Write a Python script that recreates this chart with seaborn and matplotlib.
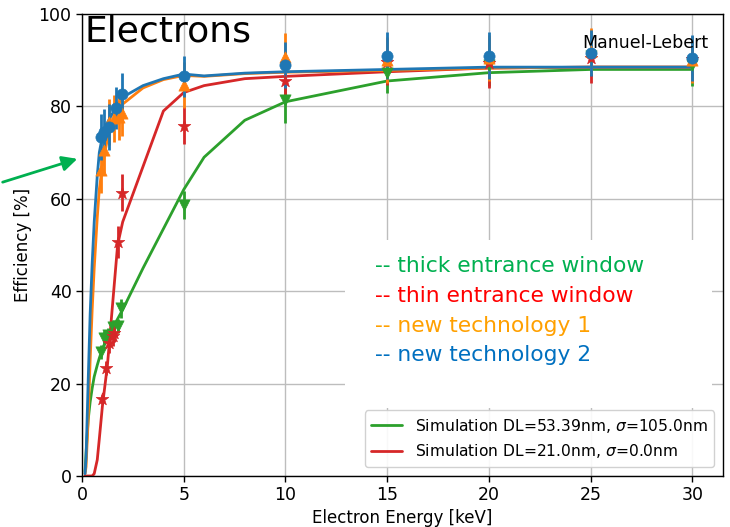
import numpy as np
import pandas as pd
import matplotlib
matplotlib.use("Agg")
import matplotlib.pyplot as plt
import seaborn as sns
from matplotlib.patches import Rectangle

# ---------------- data ----------------
sim_energy = [0.15, 0.2, 0.3, 0.4, 0.5, 0.6, 0.75, 0.85, 1.0, 1.25, 1.5, 1.75, 2.0,
              3.0, 4.0, 5.0, 6.0, 8.0, 10.0, 15.0, 20.0, 25.0, 30.0]
sim_green = [1.0, 5.0, 12.0, 16.0, 19.0, 21.5, 24.0, 25.5, 27.5, 30.0, 32.0, 34.0, 36.0,
             45.0, 53.5, 62.0, 69.0, 77.0, 81.0, 85.5, 87.3, 88.0, 88.0]
sim_red = [0.0, 0.0, 0.0, 0.0, 0.0, 0.5, 3.5, 8.0, 15.0, 24.0, 37.0, 50.0, 55.0,
           67.0, 79.0, 83.0, 84.5, 86.0, 86.5, 87.5, 88.3, 88.5, 88.5]
sim_orange = [0.5, 2.0, 12.0, 25.0, 36.0, 45.0, 56.0, 62.0, 67.0, 73.0, 76.5, 79.0, 80.5,
              84.0, 85.8, 86.7, 86.5, 87.1, 87.4, 87.8, 88.3, 88.5, 88.5]
sim_blue = [0.5, 4.0, 20.0, 35.0, 46.0, 55.0, 65.0, 70.0, 73.5, 76.5, 78.5, 80.5, 82.0,
            84.5, 86.0, 87.0, 86.6, 87.2, 87.5, 88.0, 88.5, 88.5, 88.5]

green_E = [0.93, 1.09, 1.26, 1.5, 1.75, 1.91, 5, 10, 15, 20, 25, 30]
green_eff = [26.9, 29.8, 30.5, 32.3, 32.5, 36.3, 58.6, 81.4, 87.3, 89.0, 91.0, 89.0]
green_err = [1.5, 1.5, 1.5, 1.5, 1.5, 2.0, 3.0, 5.0, 4.5, 4.5, 4.5, 4.5]

red_E = [0.98, 1.17, 1.34, 1.5, 1.58, 1.75, 1.99, 5, 10, 15, 20, 25, 30]
red_eff = [16.6, 23.3, 28.7, 30.2, 30.9, 50.7, 61.3, 75.8, 85.5, 89.7, 89.5, 90.5, 90.3]
red_err = [1.0, 1.5, 2.0, 2.0, 2.0, 3.5, 4.0, 4.0, 4.5, 5.0, 5.5, 5.5, 5.0]

orange_E = [0.93, 1.09, 1.34, 1.58, 1.83, 1.99, 5, 10, 15, 20, 25, 30]
orange_eff = [66.2, 70.6, 76.7, 77.4, 77.8, 78.5, 84.6, 90.8, 90.0, 90.5, 92.0, 90.0]
orange_err = [5.0, 5.0, 5.0, 5.0, 5.0, 5.0, 5.0, 5.0, 5.0, 5.0, 5.0, 5.0]

blue_E = [0.93, 1.09, 1.34, 1.67, 1.99, 5, 10, 15, 20, 25, 30]
blue_eff = [73.4, 74.5, 75.6, 79.6, 82.7, 86.5, 89.0, 91.0, 91.0, 91.5, 90.5]
blue_err = [5.0, 5.0, 5.0, 4.5, 4.5, 4.5, 5.0, 5.0, 5.0, 5.0, 5.0]

x_ticks = [0, 5, 10, 15, 20, 25, 30]
y_ticks = [0, 20, 40, 60, 80, 100]

legend_labels = ["Simulation DL=53.39nm, $\\sigma$=105.0nm",
                 "Simulation DL=21.0nm, $\\sigma$=0.0nm"]
overlay_texts = ["-- thick entrance window", "-- thin entrance window",
                 "-- new technology 1", "-- new technology 2"]

# ---------------- style ----------------
sns.set_style("white")
plt.rcParams['font.family'] = ['DejaVu Sans']
plt.rcParams['text.color'] = 'black'
plt.rcParams['axes.labelcolor'] = 'black'
plt.rcParams['xtick.color'] = 'black'
plt.rcParams['ytick.color'] = 'black'

C_BLUE, C_ORANGE, C_GREEN, C_RED = "#1f77b4", "#ff7f0e", "#2ca02c", "#d62728"

fig = plt.figure(figsize=(7.30, 5.27), dpi=100)
ax = fig.add_axes([82 / 730, 1 - 476 / 527, (723 - 82) / 730, (476 - 14) / 527])

sim_df = pd.DataFrame({"E": sim_energy, "green": sim_green, "red": sim_red,
                       "orange": sim_orange, "blue": sim_blue})

sns.lineplot(data=sim_df, x="E", y="green", color=C_GREEN, lw=2, ax=ax,
             label=legend_labels[0])
sns.lineplot(data=sim_df, x="E", y="red", color=C_RED, lw=2, ax=ax, label=legend_labels[1])
sns.lineplot(data=sim_df, x="E", y="orange", color=C_ORANGE, lw=2, ax=ax, legend=False)
sns.lineplot(data=sim_df, x="E", y="blue", color=C_BLUE, lw=2, ax=ax, legend=False)

series = [
    (green_E, green_eff, green_err, C_GREEN, "v"),
    (red_E, red_eff, red_err, C_RED, "*"),
    (orange_E, orange_eff, orange_err, C_ORANGE, "^"),
    (blue_E, blue_eff, blue_err, C_BLUE, "o"),
]
for E, eff, err, c, m in series:
    ax.errorbar(E, eff, yerr=err, fmt="none", ecolor=c, elinewidth=2, zorder=3)
    sns.scatterplot(x=E, y=eff, color=c, marker=m, s=90 if m == "*" else 65,
                    edgecolor=c, linewidth=0.5, ax=ax, zorder=4, legend=False)

ax.set_xlim(0, 31.5)
ax.set_ylim(0, 100)
ax.set_xticks(x_ticks)
ax.set_yticks(y_ticks)
ax.grid(True, color="#bdbdbd", lw=1)
ax.set_axisbelow(True)
for s in ax.spines.values():
    s.set_color("black")
    s.set_linewidth(1.0)
ax.tick_params(axis="both", direction="out", length=4, width=1, color="black",
               labelcolor="black", labelsize=12.5, bottom=True, left=True)
ax.set_xlabel("Electron Energy [keV]", fontsize=12, labelpad=3)
ax.set_ylabel("Efficiency [%]", fontsize=12, labelpad=5)

leg = ax.legend(loc="lower right", fontsize=11.2, frameon=True, framealpha=0.9,
                borderaxespad=0.6, handlelength=2.0)
leg.get_frame().set_edgecolor("#cccccc")
for t in leg.get_texts():
    t.set_color("black")

# White overlay box with coloured labels
box = Rectangle(((345 - 82) / 641, (476 - 408) / 462), (712 - 345) / 641,
                (408 - 240) / 462, transform=ax.transAxes, facecolor="white",
                edgecolor="none", zorder=6)
ax.add_patch(box)
ov_colors = ["#00b050", "#ff0000", "#ffa000", "#0070c0"]
ov_y = [266, 296, 326, 355]
for t, c, yy in zip(overlay_texts, ov_colors, ov_y):
    ax.text((375 - 82) / 641, (476 - yy) / 462, t, color=c, fontsize=15.7,
            transform=ax.transAxes, va="center", ha="left", zorder=7)

ax.text(0.004, 0.998, "Electrons", transform=ax.transAxes, fontsize=26,
        va="top", ha="left", zorder=7, color="black")
ax.text((708 - 82) / 641, (476 - 43) / 462, "Manuel-Lebert", transform=ax.transAxes,
        fontsize=12.5, va="center", ha="right", zorder=7, color="black")

ax.annotate("", xy=(80, 527 - 158), xycoords="figure pixels",
            xytext=(0, 527 - 183), textcoords="figure pixels",
            arrowprops=dict(arrowstyle="-|>,head_length=0.9,head_width=0.45",
                            color="#00b050", lw=2), annotation_clip=False)

fig.savefig("out.png", dpi=100)
